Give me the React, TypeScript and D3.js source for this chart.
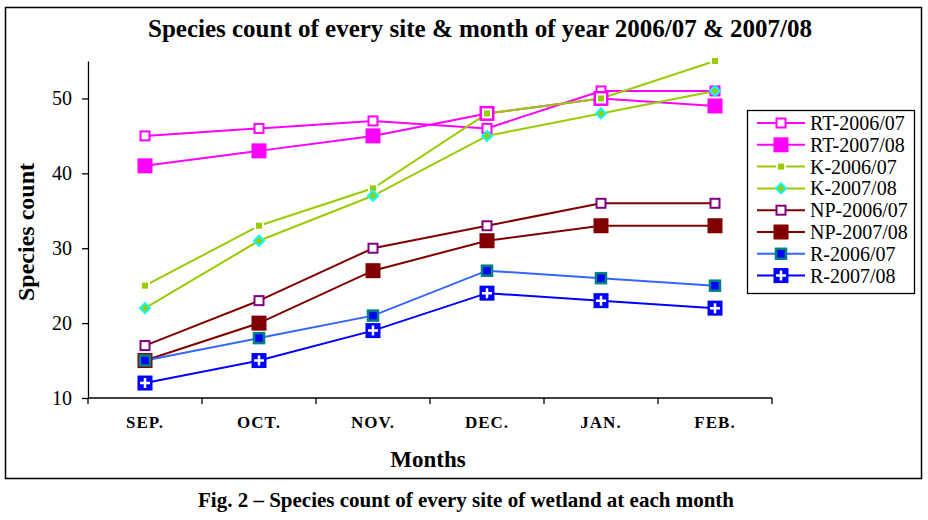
import { useEffect, useRef } from 'react'
import * as d3 from 'd3'

const months = ['SEP.', 'OCT.', 'NOV.', 'DEC.', 'JAN.', 'FEB.']
const yTicks = [10, 20, 30, 40, 50]

const rt0607 = [45, 46, 47, 46, 51, 51]
const rt0708 = [41, 43, 45, 48, 50, 49]
const k0607 = [25, 33, 38, 48, 50, 55]
const k0708 = [22, 31, 37, 45, 48, 51]
const np0607 = [17, 23, 30, 33, 36, 36]
const np0708 = [15, 20, 27, 31, 33, 33]
const r0607 = [15, 18, 21, 27, 26, 25]
const r0708 = [12, 15, 19, 24, 23, 22]

type Marker = 'openSquare' | 'bigSquare' | 'smallSquare' | 'diamond' | 'tealSquare' | 'cross'

interface Series {
  name: string
  values: number[]
  line: string
  marker: Marker
  mColor: string
}

const series: Series[] = [
  { name: 'RT-2006/07', values: rt0607, line: '#FF00FF', marker: 'openSquare', mColor: '#FF00FF' },
  { name: 'RT-2007/08', values: rt0708, line: '#FF00FF', marker: 'bigSquare', mColor: '#FF00FF' },
  { name: 'K-2006/07', values: k0607, line: '#99CC00', marker: 'smallSquare', mColor: '#99CC00' },
  { name: 'K-2007/08', values: k0708, line: '#99CC00', marker: 'diamond', mColor: '#99CC00' },
  { name: 'NP-2006/07', values: np0607, line: '#800000', marker: 'openSquare', mColor: '#800080' },
  { name: 'NP-2007/08', values: np0708, line: '#800000', marker: 'bigSquare', mColor: '#800000' },
  { name: 'R-2006/07', values: r0607, line: '#3366FF', marker: 'tealSquare', mColor: '#008080' },
  { name: 'R-2007/08', values: r0708, line: '#0000FF', marker: 'cross', mColor: '#0000FF' },
]

const FONT = '"Liberation Serif", "Times New Roman", serif'

function drawMarker(g: d3.Selection<SVGGElement, unknown, null, undefined>, s: Series, x: number, y: number) {
  const m = g.append('g').attr('transform', `translate(${x},${y})`)
  switch (s.marker) {
    case 'openSquare':
      m.append('rect').attr('x', -4.5).attr('y', -4.5).attr('width', 9).attr('height', 9)
        .attr('fill', '#fff').attr('stroke', s.mColor).attr('stroke-width', 2)
      break
    case 'bigSquare':
      m.append('rect').attr('x', -7.5).attr('y', -7.5).attr('width', 15).attr('height', 15)
        .attr('fill', s.mColor)
      break
    case 'smallSquare':
      m.append('rect').attr('x', -4).attr('y', -4).attr('width', 8).attr('height', 8)
        .attr('fill', s.mColor).attr('stroke', '#fff').attr('stroke-width', 2)
      break
    case 'diamond':
      m.append('path').attr('d', 'M0,-5L5,0L0,5L-5,0Z')
        .attr('fill', s.mColor).attr('stroke', '#00FFFF').attr('stroke-width', 2)
      break
    case 'tealSquare':
      m.append('rect').attr('x', -5).attr('y', -5).attr('width', 10).attr('height', 10)
        .attr('fill', '#0000FF').attr('stroke', s.mColor).attr('stroke-width', 2.5)
      break
    case 'cross':
      m.append('rect').attr('x', -7.5).attr('y', -7.5).attr('width', 15).attr('height', 15)
        .attr('fill', s.mColor)
      m.append('path').attr('d', 'M0,-5V5M-5,0H5')
        .attr('stroke', '#fff').attr('stroke-width', 2.5)
      break
  }
}

export default function App() {
  const svgRef = useRef<SVGSVGElement>(null)

  useEffect(() => {
    if (!svgRef.current) return
    const svg = d3.select(svgRef.current)
    svg.selectAll('*').remove()

    const left = 88, right = 772, top = 61, bottom = 398

    const x = d3.scaleBand().domain(months).range([left, right])
    const y = d3.scaleLinear().domain([10, 55]).range([bottom, top])
    const cx = (m: string) => (x(m) ?? 0) + x.bandwidth() / 2

    svg.append('rect').attr('x', 5.5).attr('y', 7.5).attr('width', 916).attr('height', 471)
      .attr('fill', '#fff').attr('stroke', '#000').attr('stroke-width', 1.5)

    svg.append('text').attr('x', 480).attr('y', 37).attr('text-anchor', 'middle')
      .attr('font-family', FONT).attr('font-weight', 'bold').attr('font-size', 25)
      .text('Species count of every site & month of year 2006/07 & 2007/08')

    // axes
    const yAxis = svg.append('g').attr('transform', `translate(${left},0)`)
      .call(d3.axisLeft(y).tickValues(yTicks).tickSize(6).tickPadding(10).tickSizeOuter(0))
    yAxis.select('.domain').attr('stroke', '#000').attr('stroke-width', 1.3)
    yAxis.selectAll('.tick line').attr('stroke', '#000').attr('stroke-width', 1.3)
    yAxis.selectAll('.tick text').attr('font-family', FONT).attr('font-size', 20).attr('fill', '#000')

    const xAxis = svg.append('g').attr('transform', `translate(0,${bottom})`)
      .call(d3.axisBottom(x).tickSize(0).tickPadding(18))
    xAxis.select('.domain').remove()
    xAxis.selectAll('.tick text').attr('font-family', FONT).attr('font-size', 17)
      .attr('font-weight', 'bold').attr('letter-spacing', 1).attr('fill', '#000')
    svg.append('line').attr('x1', left).attr('x2', right).attr('y1', bottom).attr('y2', bottom)
      .attr('stroke', '#000').attr('stroke-width', 1.3)
    svg.append('g').selectAll('line').data(d3.range(months.length + 1)).join('line')
      .attr('x1', i => left + i * x.step()).attr('x2', i => left + i * x.step())
      .attr('y1', bottom).attr('y2', bottom + 6).attr('stroke', '#000').attr('stroke-width', 1.3)

    svg.append('text').attr('x', 428).attr('y', 467).attr('text-anchor', 'middle')
      .attr('font-family', FONT).attr('font-weight', 'bold').attr('font-size', 23)
      .text('Months')
    svg.append('text').attr('transform', 'translate(34,232) rotate(-90)').attr('text-anchor', 'middle')
      .attr('font-family', FONT).attr('font-weight', 'bold').attr('font-size', 24)
      .text('Species count')

    // series
    const line = d3.line<number>().x((_, i) => cx(months[i])).y(d => y(d))
    const plot = svg.append('g')
    series.forEach(s => {
      plot.append('path').datum(s.values).attr('fill', 'none').attr('stroke', s.line)
        .attr('stroke-width', 2).attr('d', line)
    })
    series.forEach(s => {
      const mg = plot.append('g')
      s.values.forEach((v, i) => drawMarker(mg, s, cx(months[i]), y(v)))
    })

    // legend
    const lg = svg.append('g')
    lg.append('rect').attr('x', 747.5).attr('y', 110.5).attr('width', 167).attr('height', 183)
      .attr('fill', '#fff').attr('stroke', '#000').attr('stroke-width', 1.3)
    series.forEach((s, i) => {
      const ly = 123 + i * 21.8
      const row = lg.append('g')
      row.append('line').attr('x1', 757).attr('x2', 805).attr('y1', ly).attr('y2', ly)
        .attr('stroke', s.line).attr('stroke-width', 2)
      drawMarker(row, s, 781, ly)
      row.append('text').attr('x', 810).attr('y', ly + 7).attr('font-family', FONT)
        .attr('font-size', 20).attr('fill', '#000').text(s.name)
    })

    svg.append('text').attr('x', 466).attr('y', 507).attr('text-anchor', 'middle')
      .attr('font-family', FONT).attr('font-weight', 'bold').attr('font-size', 21)
      .text('Fig. 2 – Species count of every site of wetland at each month')
  }, [])

  return (
    <svg ref={svgRef} width={928} height={520}
      style={{ position: 'absolute', left: 0, top: 0, background: '#fff' }} />
  )
}
